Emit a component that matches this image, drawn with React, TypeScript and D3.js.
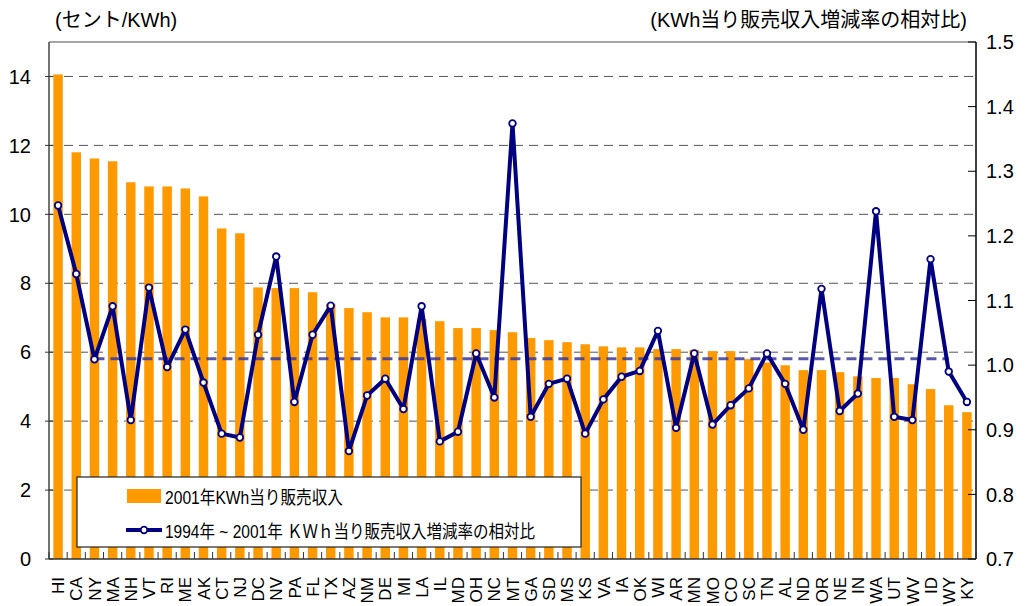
import React, { useRef, useEffect } from "react";
import * as d3 from "d3";

const states = ["HI", "CA", "NY", "MA", "NH", "VT", "RI", "ME", "AK", "CT", "NJ", "DC", "NV", "PA", "FL", "TX", "AZ", "NM", "DE", "MI", "LA", "IL", "MD", "OH", "NC", "MT", "GA", "SD", "MS", "KS", "VA", "IA", "OK", "WI", "AR", "MN", "MO", "CO", "SC", "TN", "AL", "ND", "OR", "NE", "IN", "WA", "UT", "WV", "ID", "WY", "KY"];

// 2001年KWh当り販売収入 (セント/KWh)
const revenue2001 = [14.06, 11.8, 11.62, 11.54, 10.93, 10.81, 10.81, 10.75, 10.52, 9.59, 9.45, 7.88, 7.86, 7.86, 7.74, 7.39, 7.28, 7.16, 7.01, 7.01, 6.96, 6.9, 6.7, 6.7, 6.64, 6.58, 6.41, 6.35, 6.29, 6.23, 6.17, 6.14, 6.14, 6.09, 6.09, 6.07, 6.03, 6.03, 5.8, 5.7, 5.62, 5.48, 5.48, 5.42, 5.3, 5.25, 5.25, 5.07, 4.93, 4.46, 4.26];

// 1994年～2001年 KWh当り販売収入増減率の相対比
const ratio = [1.247, 1.141, 1.009, 1.091, 0.915, 1.12, 0.997, 1.055, 0.973, 0.894, 0.888, 1.047, 1.168, 0.943, 1.047, 1.092, 0.867, 0.953, 0.979, 0.932, 1.091, 0.882, 0.897, 1.018, 0.95, 1.374, 0.92, 0.971, 0.979, 0.894, 0.947, 0.982, 0.991, 1.053, 0.903, 1.018, 0.908, 0.938, 0.964, 1.018, 0.971, 0.9, 1.118, 0.929, 0.956, 1.238, 0.92, 0.915, 1.164, 0.99, 0.943];

// reference (average) line
const avgRatio = 1.01;
const avgFrom = "NY";
const avgTo = "WY";

const leftTicks = [0, 2, 4, 6, 8, 10, 12, 14];
const rightTicks = [0.7, 0.8, 0.9, 1.0, 1.1, 1.2, 1.3, 1.4, 1.5];

const FONT = "'Liberation Sans', Arial, 'Noto Sans CJK JP', sans-serif";

function App() {
    const svgRef = useRef(null);

    useEffect(() => {
        const width = 1027;
        const height = 606;
        const m = { left: 49, right: 976, top: 42, bottom: 559 };

        const svg = d3.select(svgRef.current);
        svg.selectAll("*").remove();
        svg.attr("width", width).attr("height", height);

        const x = d3.scaleBand().domain(states).range([m.left, m.right]).paddingInner(0.48).paddingOuter(0.24);
        const yL = d3.scaleLinear().domain([0, 15]).range([m.bottom, m.top]);
        const yR = d3.scaleLinear().domain([0.7, 1.5]).range([m.bottom, m.top]);
        const cx = (s) => x(s) + x.bandwidth() / 2;

        svg.append("rect").attr("width", width).attr("height", height).attr("fill", "#fff");

        // grid
        svg.append("g")
            .selectAll("line")
            .data(leftTicks.filter((d) => d > 0))
            .enter()
            .append("line")
            .attr("x1", m.left)
            .attr("x2", m.right)
            .attr("y1", (d) => yL(d))
            .attr("y2", (d) => yL(d))
            .attr("stroke", "#555")
            .attr("stroke-dasharray", "9,6");

        // top border
        svg.append("line")
            .attr("x1", m.left).attr("x2", m.right)
            .attr("y1", m.top).attr("y2", m.top)
            .attr("stroke", "#888").attr("stroke-width", 1.5);

        // bars
        svg.append("g")
            .selectAll("rect")
            .data(states)
            .enter()
            .append("rect")
            .attr("x", (d) => x(d))
            .attr("width", x.bandwidth())
            .attr("y", (_, i) => yL(revenue2001[i]))
            .attr("height", (_, i) => m.bottom - yL(revenue2001[i]))
            .attr("fill", "#FF9900");

        // average dashed line
        svg.append("line")
            .attr("x1", cx(avgFrom))
            .attr("x2", cx(avgTo))
            .attr("y1", yR(avgRatio))
            .attr("y2", yR(avgRatio))
            .attr("stroke", "#3a3aa0")
            .attr("stroke-opacity", 0.85)
            .attr("stroke-width", 3)
            .attr("stroke-dasharray", "10,6");

        // ratio line
        const line = d3.line().x((d) => cx(d[0])).y((d) => yR(d[1]));
        const pts = states.map((s, i) => [s, ratio[i]]);
        svg.append("path")
            .datum(pts)
            .attr("d", line)
            .attr("fill", "none")
            .attr("stroke", "#000080")
            .attr("stroke-width", 4)
            .attr("stroke-linejoin", "round");

        svg.append("g")
            .selectAll("circle")
            .data(pts)
            .enter()
            .append("circle")
            .attr("cx", (d) => cx(d[0]))
            .attr("cy", (d) => yR(d[1]))
            .attr("r", 3.3)
            .attr("fill", "#fff")
            .attr("stroke", "#000080")
            .attr("stroke-width", 1.8);

        // axes lines
        svg.append("line")
            .attr("x1", m.left).attr("x2", m.left)
            .attr("y1", m.top).attr("y2", m.bottom)
            .attr("stroke", "#444").attr("stroke-width", 1.5);
        svg.append("line")
            .attr("x1", m.right).attr("x2", m.right)
            .attr("y1", m.top).attr("y2", m.bottom)
            .attr("stroke", "#000").attr("stroke-width", 1.5);
        svg.append("line")
            .attr("x1", m.left).attr("x2", m.right)
            .attr("y1", m.bottom).attr("y2", m.bottom)
            .attr("stroke", "#333").attr("stroke-width", 1.5);

        // bottom ticks between categories
        const bounds = states.map((s) => x(s) - (x.step() - x.bandwidth()) / 2).concat([m.right]);
        svg.append("g")
            .selectAll("line")
            .data(bounds)
            .enter()
            .append("line")
            .attr("x1", (d) => d).attr("x2", (d) => d)
            .attr("y1", m.bottom - 7).attr("y2", m.bottom)
            .attr("stroke", "#333");

        // left ticks + labels
        const lg = svg.append("g");
        lg.selectAll("line")
            .data(leftTicks)
            .enter()
            .append("line")
            .attr("x1", m.left - 4).attr("x2", m.left + 4)
            .attr("y1", (d) => yL(d)).attr("y2", (d) => yL(d))
            .attr("stroke", "#333");
        lg.selectAll("text")
            .data(leftTicks)
            .enter()
            .append("text")
            .attr("x", 31)
            .attr("y", (d) => yL(d))
            .attr("dy", "0.36em")
            .attr("text-anchor", "end")
            .style("font-family", FONT)
            .style("font-size", "20px")
            .text((d) => d);

        // right ticks + labels
        const rg = svg.append("g");
        rg.selectAll("line")
            .data(rightTicks)
            .enter()
            .append("line")
            .attr("x1", m.right - 8).attr("x2", m.right)
            .attr("y1", (d) => yR(d)).attr("y2", (d) => yR(d))
            .attr("stroke", "#000");
        rg.selectAll("text")
            .data(rightTicks)
            .enter()
            .append("text")
            .attr("x", 986)
            .attr("y", (d) => yR(d))
            .attr("dy", "0.36em")
            .style("font-family", FONT)
            .style("font-size", "20px")
            .text((d) => d3.format(".1f")(d));

        // category labels
        svg.append("g")
            .selectAll("text")
            .data(states)
            .enter()
            .append("text")
            .attr("transform", (d) => `translate(${cx(d)},577) rotate(-90)`)
            .attr("dy", "0.36em")
            .attr("text-anchor", "end")
            .style("font-family", FONT)
            .style("font-size", "17px")
            .text((d) => d);

        // axis titles
        svg.append("text")
            .attr("x", 55).attr("y", 27)
            .style("font-family", FONT)
            .style("font-size", "20px")
            .text("(セント/KWh)");
        svg.append("text")
            .attr("x", 967).attr("y", 27)
            .attr("text-anchor", "end")
            .style("font-family", FONT)
            .style("font-size", "20px")
            .text("(KWh当り販売収入増減率の相対比)");

        // legend
        const lgd = svg.append("g");
        lgd.append("rect")
            .attr("x", 77).attr("y", 477)
            .attr("width", 504).attr("height", 70)
            .attr("fill", "#fff")
            .attr("stroke", "#222").attr("stroke-width", 1.2);
        lgd.append("rect")
            .attr("x", 127).attr("y", 489)
            .attr("width", 34).attr("height", 14)
            .attr("fill", "#FF9900");
        lgd.append("text")
            .attr("x", 165).attr("y", 504)
            .style("font-family", FONT)
            .style("font-size", "18px")
            .attr("textLength", 178)
            .attr("lengthAdjust", "spacingAndGlyphs")
            .text("2001年KWh当り販売収入");
        lgd.append("line")
            .attr("x1", 126).attr("x2", 162)
            .attr("y1", 530).attr("y2", 530)
            .attr("stroke", "#000080").attr("stroke-width", 4);
        lgd.append("circle")
            .attr("cx", 144).attr("cy", 530).attr("r", 3.3)
            .attr("fill", "#fff").attr("stroke", "#000080").attr("stroke-width", 1.8);
        lgd.append("text")
            .attr("x", 165).attr("y", 538)
            .style("font-family", FONT)
            .style("font-size", "18px")
            .attr("textLength", 370)
            .attr("lengthAdjust", "spacingAndGlyphs")
            .text("1994年 ~ 2001年 ＫＷｈ当り販売収入増減率の相対比");
    }, []);

    return (
        <svg ref={svgRef} style={{ position: "absolute", left: 0, top: 0, display: "block" }}></svg>
    );
}

export default App;
